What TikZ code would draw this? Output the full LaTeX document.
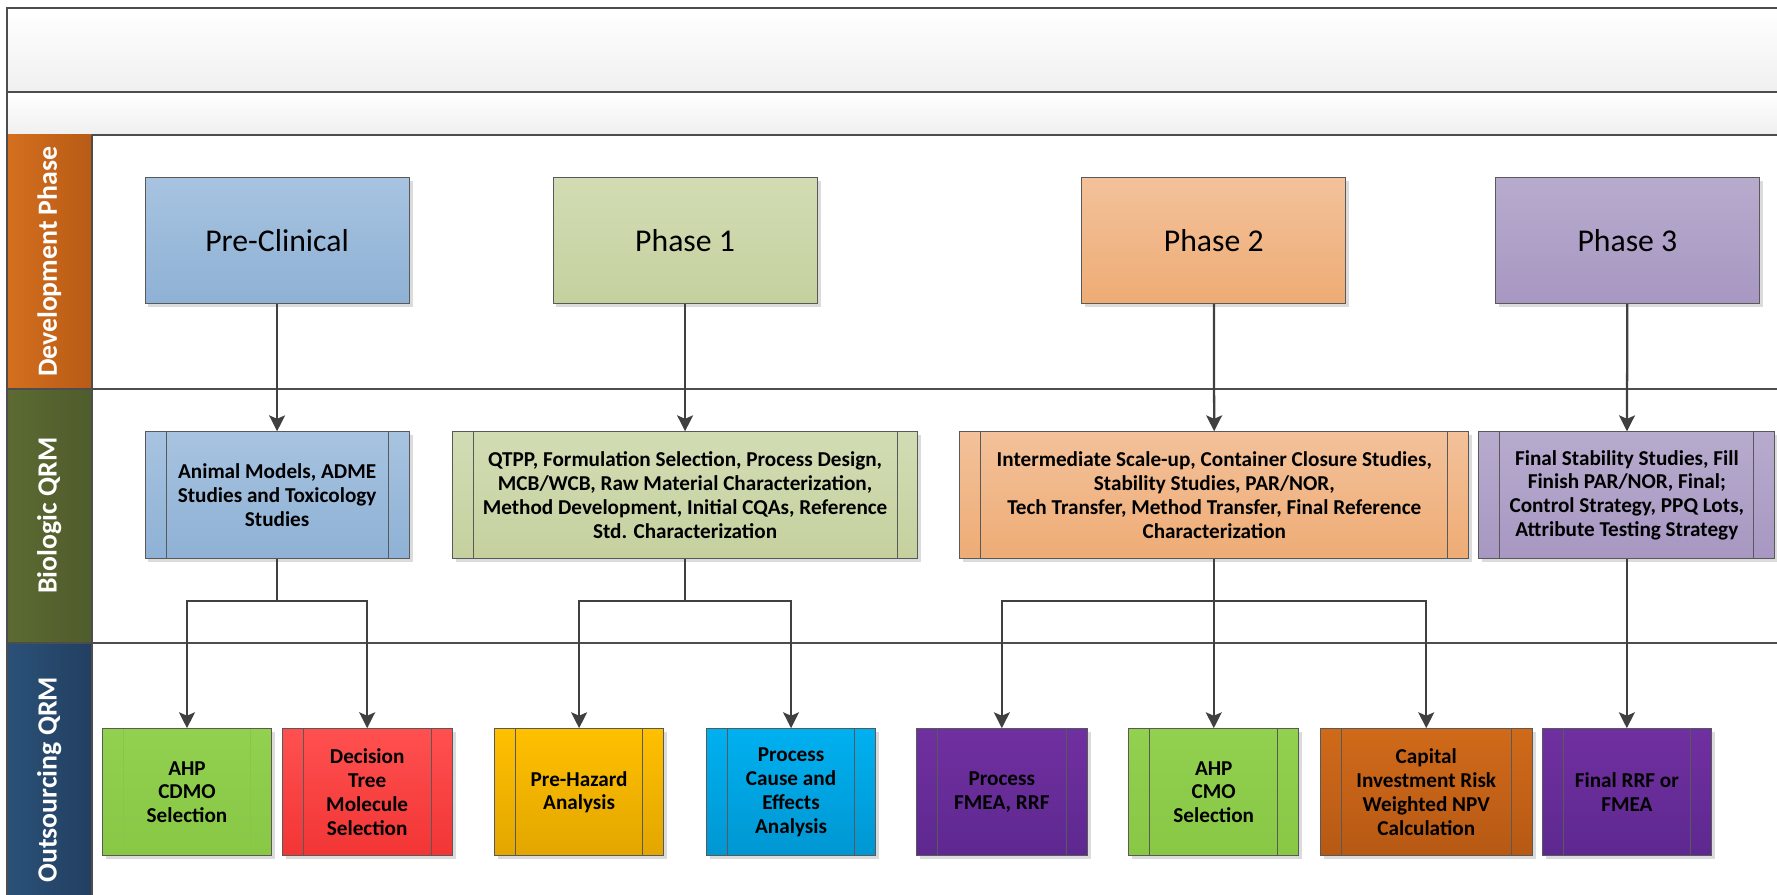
\documentclass[tikz,border=0pt]{standalone}
\usepackage{fontspec}
\setmainfont{Carlito}
\usetikzlibrary{arrows.meta,shadows}
\definecolor{linec}{HTML}{404040}
\definecolor{bordc}{HTML}{595959}
\definecolor{frame}{HTML}{4D4D4D}
\definecolor{blueT}{HTML}{A7C3E0}\definecolor{blueB}{HTML}{8EB1D5}
\definecolor{oliveT}{HTML}{D2DCB4}\definecolor{oliveB}{HTML}{C4D19E}
\definecolor{peachT}{HTML}{F3C19A}\definecolor{peachB}{HTML}{EEAC75}
\definecolor{lavT}{HTML}{B7ABCD}\definecolor{lavB}{HTML}{A797C2}
\definecolor{greenT}{HTML}{92D050}\definecolor{greenB}{HTML}{88C845}
\definecolor{redT}{HTML}{FF5050}\definecolor{redB}{HTML}{F23535}
\definecolor{yelT}{HTML}{FFC000}\definecolor{yelB}{HTML}{E2A600}
\definecolor{cyanT}{HTML}{00B0F0}\definecolor{cyanB}{HTML}{0097D2}
\definecolor{purT}{HTML}{7030A0}\definecolor{purB}{HTML}{5E2890}
\definecolor{oraT}{HTML}{D06A1A}\definecolor{oraB}{HTML}{B75914}
\definecolor{devL}{HTML}{D46F1E}\definecolor{devR}{HTML}{B85B16}
\definecolor{bioL}{HTML}{5C6A32}\definecolor{bioR}{HTML}{4F5C2C}
\definecolor{outL}{HTML}{2B5178}\definecolor{outR}{HTML}{223F60}
\definecolor{faint}{HTML}{86C64A}
\tikzset{
  shad/.style={drop shadow={shadow xshift=3pt, shadow yshift=-3pt, fill=black!14, opacity=1}},
  phasebox/.style={draw=bordc, line width=0.9pt, minimum width=233pt, minimum height=111pt,
    inner sep=2pt, font=\fontsize{28}{32}\selectfont, shad},
  procbox/.style={draw=bordc, line width=0.9pt, minimum height=112pt, inner sep=2pt,
    align=center, font=\fontsize{18.7}{21}\selectfont\bfseries, shad,
    path picture={
      \draw[#1, line width=0.9pt] ([xshift=18.5pt]path picture bounding box.north west) -- ([xshift=18.5pt]path picture bounding box.south west);
      \draw[#1, line width=0.9pt] ([xshift=-18.5pt]path picture bounding box.north east) -- ([xshift=-18.5pt]path picture bounding box.south east);}},
  procbox/.default=bordc,
  conn/.style={draw=linec, line width=2pt},
  arr/.style={conn, -{Stealth[length=14pt, width=14pt, inset=3pt]}},
  lanetext/.style={rotate=90, text=white, font=\fontsize{24.5}{28}\selectfont\bfseries}
}
\begin{document}
\begin{tikzpicture}[x=1pt,y=-1pt]
\useasboundingbox (0,0) rectangle (1568,789);
\clip (0,0) rectangle (1568,789);
% title bands
\shade[top color=white, bottom color=black!6] (6,7) rectangle (1600,81);
\shade[top color=white, bottom color=black!6] (6,81) rectangle (1600,119);
\draw[frame, line width=1.7pt] (1600,7) -- (6,7) -- (6,820);
\draw[frame, line width=1.7pt] (6,81) -- (1600,81);
\draw[frame, line width=1.7pt] (6,119) -- (1600,119);
% lane headers
\shade[left color=devL, right color=devR] (6,119) rectangle (81,343);
\shade[left color=bioL, right color=bioR] (6,343) rectangle (81,567);
\shade[left color=outL, right color=outR] (6,567) rectangle (81,820);
\draw[frame, line width=1.7pt] (6,343) -- (1600,343);
\draw[frame, line width=1.7pt] (6,567) -- (1600,567);
\draw[frame, line width=1.7pt] (81,119) -- (81,820);
\draw[frame, line width=1.7pt] (6,7) -- (6,820);
\node[lanetext] (ldev) at (43.5,231) {Development Phase};
\node[lanetext] (lbio) at (43.5,455) {Biologic QRM};
\node[lanetext] (lout) at (43.5,688) {Outsourcing QRM};
% phase boxes
\node[phasebox, top color=blueT, bottom color=blueB] (pre) at (244.5,212.5) {Pre-Clinical};
\node[phasebox, top color=oliveT, bottom color=oliveB] (p1) at (604.5,212.5) {Phase 1};
\node[phasebox, top color=peachT, bottom color=peachB] (p2) at (1071,212.5) {Phase 2};
\node[phasebox, top color=lavT, bottom color=lavB] (p3) at (1436,212.5) {Phase 3};
% biologic boxes
\node[procbox, minimum width=233pt, top color=blueT, bottom color=blueB] (bpre) at (244.5,437) {Animal Models, ADME\\Studies and Toxicology\\Studies};
\node[procbox, minimum width=411pt, top color=oliveT, bottom color=oliveB] (bp1) at (604.5,437) {QTPP, Formulation Selection, Process Design,\\MCB/WCB, Raw Material Characterization,\\Method Development, Initial CQAs, Reference\\Std. Characterization};
\node[procbox, minimum width=449pt, top color=peachT, bottom color=peachB] (bp2) at (1071.5,437) {Intermediate Scale-up, Container Closure Studies,\\Stability Studies, PAR/NOR,\\Tech Transfer, Method Transfer, Final Reference\\Characterization};
\node[procbox, minimum width=261pt, top color=lavT, bottom color=lavB] (bp3) at (1435.5,437) {Final Stability Studies, Fill\\Finish PAR/NOR, Final;\\Control Strategy, PPQ Lots,\\Attribute Testing Strategy};
% outsourcing boxes
\node[procbox=faint, minimum width=149.5pt, top color=greenT, bottom color=greenB] (o1) at (165,699) {AHP\\CDMO\\Selection};
\node[procbox, minimum width=150pt, top color=redT, bottom color=redB] (o2) at (324,699) {Decision\\Tree\\Molecule\\Selection};
\node[procbox, minimum width=149.5pt, top color=yelT, bottom color=yelB] (o3) at (511,699) {Pre-Hazard\\Analysis};
\node[procbox, minimum width=149.5pt, top color=cyanT, bottom color=cyanB] (o4) at (698,699) {Process\\Cause and\\Effects\\Analysis};
\node[procbox, minimum width=150.5pt, top color=purT, bottom color=purB] (o5) at (884,699) {Process\\FMEA, RRF};
\node[procbox, minimum width=150pt, top color=greenT, bottom color=greenB] (o6) at (1071,699) {AHP\\CMO\\Selection};
\node[procbox, minimum width=187pt, top color=oraT, bottom color=oraB] (o7) at (1258.5,699) {Capital\\Investment Risk\\Weighted NPV\\Calculation};
\node[procbox, minimum width=149pt, top color=purT, bottom color=purB] (o8) at (1435.5,699) {Final RRF or\\FMEA};
% connectors
\draw[arr] (pre) -- (bpre);
\draw[arr] (p1) -- (bp1);
\draw[arr] (p2) -- (bp2);
\draw[arr] (p3) -- (bp3);
\coordinate (j1) at (244.5,530.5);
\coordinate (j2) at (604.5,530.5);
\coordinate (j3) at (1071,530.5);
\draw[conn] (bpre) -- (j1);
\draw[arr] (j1) -| (o1.north);
\draw[arr] (j1) -| (o2.north);
\draw[conn] (bp1.south -| j2) -- (j2);
\draw[arr] (j2) -| (o3.north);
\draw[arr] (j2) -| (o4.north);
\draw[arr] (bp2.south -| o6.north) -- (o6.north);
\draw[arr] (j3) -| (o5.north);
\draw[arr] (j3) -| (o7.north);
\draw[arr] (bp3.south -| o8.north) -- (o8.north);
\end{tikzpicture}
\end{document}
